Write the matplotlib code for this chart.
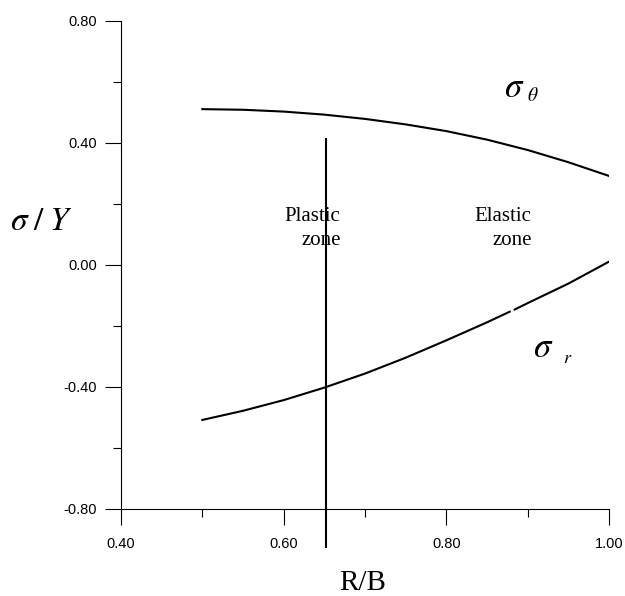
import matplotlib
matplotlib.use("Agg")
import matplotlib.pyplot as plt
from matplotlib.ticker import MultipleLocator, FormatStrFormatter

plt.rcParams['axes.unicode_minus'] = False
plt.rcParams['mathtext.fontset'] = 'stix'

# Data
r_theta = [0.50, 0.55, 0.60, 0.65, 0.70, 0.75, 0.80, 0.85, 0.90, 0.95, 1.00]
sigma_theta = [0.511, 0.509, 0.503, 0.493, 0.479, 0.461, 0.439, 0.411, 0.377, 0.337, 0.292]

r_r1 = [0.50, 0.55, 0.60, 0.65, 0.70, 0.75, 0.80, 0.85, 0.878]
sigma_r1 = [-0.508, -0.478, -0.443, -0.402, -0.356, -0.304, -0.247, -0.188, -0.153]
r_r2 = [0.884, 0.90, 0.95, 1.00]
sigma_r2 = [-0.146, -0.125, -0.061, 0.011]

interface_x = [0.652, 0.652]
interface_y = [-0.925, 0.413]

xticks = [0.40, 0.60, 0.80, 1.00]
yticks = [-0.80, -0.40, 0.00, 0.40, 0.80]

fig = plt.figure(figsize=(6.25, 5.96), dpi=100)
ax = fig.add_axes([121/625, 87/596, (609-121)/625, (509-21)/596])

lw = 1.5
ax.plot(r_theta, sigma_theta, color='black', lw=lw)
ax.plot(r_r1, sigma_r1, color='black', lw=lw)
ax.plot(r_r2, sigma_r2, color='black', lw=lw)
ax.plot(interface_x, interface_y, color='black', lw=lw, clip_on=False)

ax.set_xlim(0.4, 1.0)
ax.set_ylim(-0.8, 0.8)
for s in ['top', 'right']:
    ax.spines[s].set_visible(False)
for s in ['left', 'bottom']:
    ax.spines[s].set_linewidth(0.8)

ax.set_xticks(xticks)
ax.set_yticks(yticks)
ax.xaxis.set_minor_locator(MultipleLocator(0.1))
ax.yaxis.set_minor_locator(MultipleLocator(0.2))
ax.xaxis.set_major_formatter(FormatStrFormatter('%.2f'))
ax.yaxis.set_major_formatter(FormatStrFormatter('%.2f'))
ax.tick_params(which='major', direction='out', length=11.5, width=0.8,
               labelsize=10.5)
ax.tick_params(which='minor', direction='out', length=5.8, width=0.8)
ax.tick_params(axis='y', which='major', pad=6)
ax.tick_params(axis='x', which='major', pad=8.5)
for lab in ax.get_xticklabels() + ax.get_yticklabels():
    lab.set_fontfamily('Liberation Sans')

serif = 'Liberation Serif'
ax.text(0.670, 0.145, 'Plastic', ha='right', va='baseline', fontsize=15, family=serif)
ax.text(0.670, 0.066, 'zone', ha='right', va='baseline', fontsize=15, family=serif)
ax.text(0.905, 0.145, 'Elastic', ha='right', va='baseline', fontsize=15, family=serif)
ax.text(0.905, 0.066, 'zone', ha='right', va='baseline', fontsize=15, family=serif)

ax.text(0.884, 0.584, r'$\sigma$', ha='center', va='center', fontsize=25)
ax.text(0.906, 0.557, r'$\theta$', ha='center', va='center', fontsize=14)
ax.text(0.919, -0.269, r'$\sigma$', ha='center', va='center', fontsize=25)
ax.text(0.949, -0.305, r'$r$', ha='center', va='center', fontsize=13)

ax.text(0.263, 0.115, r'$\sigma\;/\;Y$', ha='left', va='baseline', fontsize=24,
        clip_on=False)
ax.text(0.697, -1.066, 'R/B', ha='center', va='baseline', fontsize=21,
        family=serif, clip_on=False)

fig.savefig('out.png', dpi=100)
